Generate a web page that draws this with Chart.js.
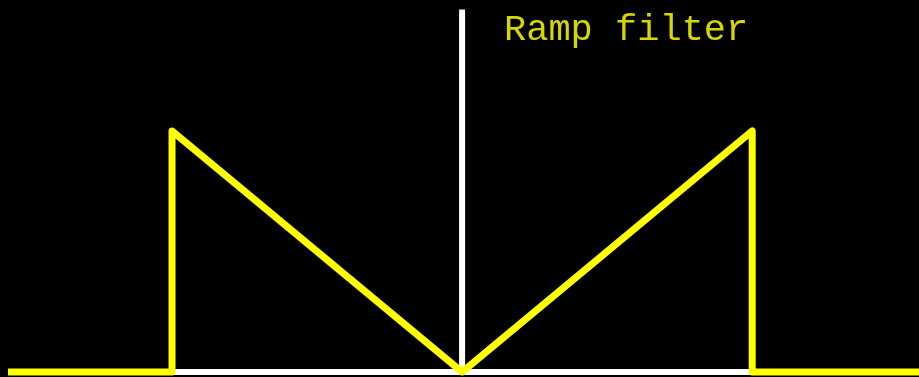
<!DOCTYPE html>
<html>
<head>
<meta charset="utf-8">
<script src="https://cdn.jsdelivr.net/npm/chart.js@4/dist/chart.umd.min.js"></script>
<style>
    html, body { margin: 0; padding: 0; background: #000; }
    #wrap { position: relative; width: 919px; height: 377px; background: #000; overflow: hidden; }
    #label {
        position: absolute; left: 504px; top: 12px;
        font-family: 'Liberation Mono', 'DejaVu Sans Mono', monospace;
        font-size: 37px; line-height: 37px; color: #d6d600;
        white-space: pre;
    }
</style>
</head>
<body>
<div id="wrap">
    <canvas id="rampChart" width="919" height="377"></canvas>
    <div id="label">Ramp filter</div>
</div>
<script>
    // Ramp filter |w| cut off at +/-1, zero outside
    const filterX = [-1.565, -1, -1, 0, 1, 1, 1.58];
    const filterY = [0, 0, 1, 0, 1, 0, 0];

    // white axes
    const hAxisX = [-1.565, 1.58];
    const hAxisY = [0, 0];
    const vAxisX = [0, 0];
    const vAxisY = [0, 1.505];

    const toPoints = (xs, ys) => xs.map((x, i) => ({ x: x, y: ys[i] }));

    const ctx = document.getElementById('rampChart').getContext('2d');
    new Chart(ctx, {
        type: 'line',
        data: {
            datasets: [
                { data: toPoints(filterX, filterY), borderColor: '#ffff00', borderWidth: 7, order: 0, borderJoinStyle: 'round' },
                { data: toPoints(hAxisX, hAxisY), borderColor: '#ffffff', borderWidth: 6, order: 1 },
                { data: toPoints(vAxisX, vAxisY), borderColor: '#ffffff', borderWidth: 6, order: 1 }
            ]
        },
        options: {
            responsive: false,
            animation: false,
            layout: { padding: 0 },
            elements: { point: { radius: 0 }, line: { tension: 0 } },
            clip: false,
            scales: {
                x: { type: 'linear', min: -1.593, max: 1.575, display: false },
                y: { type: 'linear', min: -0.021, max: 1.544, display: false }
            },
            plugins: { legend: { display: false }, tooltip: { enabled: false } }
        }
    });
</script>
</body>
</html>
